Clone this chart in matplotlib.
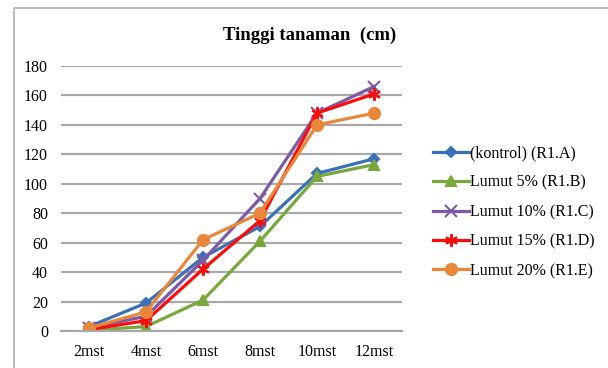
import matplotlib.pyplot as plt
from matplotlib.patches import Rectangle

weeks = ["2mst", "4mst", "6mst", "8mst", "10mst", "12mst"]
kontrol = [3, 19, 50, 71, 107, 117]
lumut_5 = [0.5, 3, 21, 61, 105, 113]
lumut_10 = [2, 10, 48, 90, 148, 166]
lumut_15 = [1, 7, 42, 75, 148, 161]
lumut_20 = [2, 13, 62, 80, 140, 148]

labels = ["(kontrol) (R1.A)", "Lumut 5% (R1.B)", "Lumut 10% (R1.C)",
          "Lumut 15% (R1.D)", "Lumut 20% (R1.E)"]
colors = ["#3a70b8", "#78a83c", "#7c5aa6", "#ff0a0a", "#e8873a"]
markers = ["D", "^", "x", (6, 2, 0), "o"]
msizes = [5, 7, 8, 9, 8]

plt.rcParams["font.family"] = ["Liberation Serif", "DejaVu Serif"]

fig = plt.figure(figsize=(6.08, 3.68), dpi=100)
ax = fig.add_axes([60.5 / 608, 37 / 368, 342 / 608, 265 / 368])

x = list(range(len(weeks)))
series = [kontrol, lumut_5, lumut_10, lumut_15, lumut_20]
for vals, lab, c, m, ms in zip(series, labels, colors, markers, msizes):
    ax.plot(x, vals, color=c, lw=2.3, marker=m, markersize=ms,
            markeredgewidth=1.5, label=lab)

ax.set_xlim(-0.5, len(weeks) - 0.5)
ax.set_ylim(0, 180)
ax.set_yticks(range(0, 181, 20))
ax.set_xticks(x)
ax.set_xticklabels(weeks)
ax.tick_params(length=0, labelsize=11.5)
ax.tick_params(axis="y", pad=9)
ax.tick_params(axis="x", pad=9)
ax.grid(axis="y", color="#a8a8a8", lw=1.6)
ax.set_axisbelow(True)
for s in ["top", "right", "left"]:
    ax.spines[s].set_visible(False)
ax.spines["bottom"].set_color("#a8a8a8")
ax.spines["bottom"].set_linewidth(1.6)

fig.text(310 / 608, 1 - 35 / 368, "Tinggi tanaman  (cm)", ha="center", va="center",
         fontsize=13.5, fontweight="bold")

fig.legend(loc="upper left", bbox_to_anchor=(427 / 608, 1 - 139 / 368),
           frameon=False, fontsize=11.5, handlelength=2.2, handletextpad=0.1,
           labelspacing=0.84, borderaxespad=0)

# chart border
fig.patches.append(Rectangle((13.5 / 608, -0.01), 1.0, 1 - 7.5 / 368 + 0.01,
                             transform=fig.transFigure, fill=False,
                             edgecolor="#b0b0b0", lw=1.2))

fig.savefig("out.png", dpi=100)
